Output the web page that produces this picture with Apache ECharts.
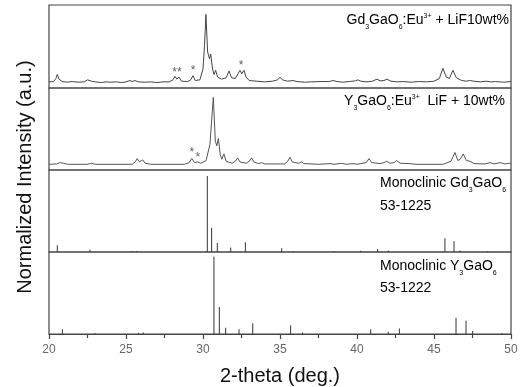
<!DOCTYPE html>
<html>
<head>
<meta charset="utf-8">
<script src="https://cdn.jsdelivr.net/npm/echarts@6/dist/echarts.min.js"></script>
<style>
  html, body { margin: 0; padding: 0; background: #fff; }
  #chart { width: 524px; height: 387px; }
</style>
</head>
<body>
<div id="chart"></div>
<script>
  // 2-theta ticks
  const xMin = 20
  const xMax = 50
  const xStep = 5

  // Gd3GaO6:Eu3+ + LiF10wt% (measured pattern, [2theta, intensity])
  const gdSample = [
    [20, 1], [20.3, 1.5], [20.45, 6], [20.54, 12], [20.65, 5], [20.85, 1.5], [21.2, 0.5], [21.5, 1.5],
    [21.9, 0.5], [22.3, 1], [22.5, 4], [22.6, 5], [22.75, 2], [23, 1], [23.4, 0], [23.7, 1], [24, 0.5],
    [24.4, 1], [24.7, 0], [25, 1], [25.26, 3], [25.4, 1.5], [25.58, 3], [25.8, 1], [26.2, 0.5], [26.6, 1],
    [27, 0], [27.4, 1], [27.8, 1], [28.05, 4], [28.18, 9], [28.3, 5], [28.44, 8], [28.6, 2], [29, 1.5],
    [29.2, 4], [29.35, 10], [29.5, 3], [29.8, 4], [30, 20], [30.1, 55], [30.19, 100], [30.3, 45],
    [30.42, 35], [30.5, 42], [30.62, 20], [30.72, 12], [30.82, 18], [30.95, 8], [31.2, 5], [31.5, 7],
    [31.69, 17], [31.85, 7], [32.1, 6], [32.3, 14], [32.4, 18], [32.52, 13], [32.66, 18], [32.8, 8],
    [33, 3], [33.5, 2], [34, 1], [34.5, 2], [34.85, 4], [35.0, 8], [35.15, 4], [35.5, 2], [35.84, 3],
    [36.1, 1.5], [36.6, 0.5], [37, 1], [37.6, 1.5], [38.2, 1.5], [38.44, 3], [38.7, 1.5], [39.1, 0.5],
    [39.5, 1.5], [39.9, 2.5], [40.06, 4], [40.25, 2], [40.6, 1], [41, 2], [41.3, 5], [41.5, 2.5],
    [41.75, 3], [41.95, 5], [42.2, 2], [42.6, 1], [43, 1.5], [43.5, 0.5], [44, 1.5], [44.5, 1], [45, 2],
    [45.35, 6], [45.58, 21], [45.8, 8], [46, 6], [46.23, 18], [46.45, 7], [46.8, 3], [47.1, 2],
    [47.3, 3], [47.6, 2], [48, 1], [48.4, 2], [48.7, 1], [49, 1.5], [49.5, 0.5], [50, 1.5],
  ]

  // Y3GaO6:Eu3+ LiF + 10wt% (measured pattern)
  const ySample = [
    [20, 0.5], [20.5, 1], [20.7, 3], [20.82, 5], [20.95, 2], [21.2, 0.5], [22.5, 0.5], [22.77, 2],
    [23, 0.5], [25.4, 0.5], [25.6, 4], [25.73, 9], [25.88, 4], [25.95, 5], [26.08, 7], [26.25, 2],
    [26.6, 0.5], [28.8, 0.5], [29.1, 3], [29.27, 9], [29.45, 3], [29.66, 4], [29.85, 2], [30.2, 6],
    [30.45, 30], [30.67, 100], [30.8, 35], [30.9, 28], [31.0, 39], [31.12, 15], [31.22, 8], [31.36, 16],
    [31.5, 5], [31.9, 2], [32.1, 5], [32.25, 10], [32.4, 4], [32.8, 2], [33, 5], [33.16, 10], [33.3, 4],
    [33.6, 1.5], [33.81, 3], [34, 1], [35.3, 1], [35.5, 5], [35.65, 11], [35.8, 4], [36.2, 2], [36.4, 4],
    [36.55, 1.5], [37.5, 0.5], [38.25, 1.5], [38.5, 0.5], [39.0, 2], [39.3, 0.5], [39.74, 1.5], [40, 0.5],
    [40.6, 3], [40.78, 9], [40.95, 3], [41.5, 1.5], [41.75, 3], [41.93, 5], [42.15, 2], [42.4, 3],
    [42.58, 6], [42.8, 2], [43.44, 1.5], [43.8, 0.5], [45.6, 0.5], [46.1, 5], [46.36, 18], [46.55, 6],
    [46.7, 8], [46.9, 16], [47.1, 6], [47.34, 5], [47.6, 1.5], [48.3, 1], [48.64, 3], [48.9, 1],
    [49.29, 3], [49.6, 1], [49.9, 2], [50, 1],
  ]

  // JCPDS 53-1225 monoclinic Gd3GaO6 (sticks)
  const gdRef = [
    [20.54, 9], [22.66, 3], [25.37, 1], [25.69, 1], [30.28, 100], [30.56, 32], [30.93, 12],
    [31.8, 6], [32.75, 13], [35.11, 5], [35.87, 1], [38.5, 1], [40.24, 1.5], [41.34, 4],
    [42.03, 2], [45.71, 18], [46.3, 14], [46.69, 2], [48.49, 1],
  ]

  // JCPDS 53-1222 monoclinic Y3GaO6 (sticks)
  const yRef = [
    [20.87, 6], [22.99, 1], [25.8, 1.5], [26.12, 2], [30.71, 100], [31.06, 35], [31.47, 8],
    [32.34, 6], [33.23, 14], [35.69, 11], [36.47, 2], [40.89, 6], [42.03, 3], [42.75, 7],
    [46.43, 21], [47.08, 17], [47.51, 4], [49.4, 1],
  ]

  // impurity marks (*)
  const gdStars = [[28.15, 15], [28.47, 15], [29.35, 17], [32.47, 25]]
  const yStars = [[29.27, 18], [29.66, 11]]

  const chart = echarts.init(document.getElementById('chart'))

  const font = 'Arial, "Liberation Sans", sans-serif'
  const panelTops = [5, 88, 170, 252]
  const panelH = [83, 82, 82, 82]

  const grids = panelTops.map((t, i) => ({
    left: 49,
    right: 13,
    top: t,
    height: panelH[i],
    show: true,
    borderColor: '#444',
    borderWidth: 1.2,
    backgroundColor: 'transparent',
  }))

  const xAxes = grids.map((g, i) => ({
    type: 'value',
    gridIndex: i,
    min: xMin,
    max: xMax,
    interval: xStep,
    show: i === 3,
    splitLine: { show: false },
    axisLine: { show: true, lineStyle: { color: '#444', width: 1.2 } },
    axisTick: { show: true, inside: false, length: 5, lineStyle: { color: '#444', width: 1.2 } },
    minorTick: { show: true, splitNumber: 2, length: 4, lineStyle: { color: '#444', width: 1.2 } },
    axisLabel: { color: '#666', fontSize: 12, fontFamily: font, margin: 10 },
    name: i === 3 ? '2-theta (deg.)' : '',
    nameLocation: 'middle',
    nameGap: 32,
    nameTextStyle: { color: '#111', fontSize: 20, fontFamily: font },
  }))

  const yRanges = [[-8, 114], [-8, 114], [0, 108], [0, 106]]
  const yAxes = yRanges.map((r, i) => ({
    type: 'value',
    gridIndex: i,
    min: r[0],
    max: r[1],
    show: false,
  }))

  const lineSeries = (data, idx, color) => ({
    type: 'line',
    xAxisIndex: idx,
    yAxisIndex: idx,
    data: data,
    showSymbol: false,
    symbol: 'none',
    smooth: false,
    lineStyle: { color: color, width: 1 },
    silent: true,
  })

  const stickSeries = (data, idx) => ({
    type: 'bar',
    xAxisIndex: idx,
    yAxisIndex: idx,
    data: data,
    barWidth: 1,
    itemStyle: { color: '#333' },
    silent: true,
  })

  const starSeries = (data, idx) => ({
    type: 'scatter',
    xAxisIndex: idx,
    yAxisIndex: idx,
    data: data,
    symbolSize: 1,
    itemStyle: { color: 'transparent' },
    label: {
      show: true,
      position: 'inside',
      formatter: '*',
      fontSize: 12,
      fontFamily: font,
      color: '#333',
    },
    silent: true,
  })

  const rich = {
    n: { fontSize: 14, fontFamily: font, color: '#222', lineHeight: 22, verticalAlign: 'middle' },
    s: { fontSize: 7, fontFamily: font, color: '#222', lineHeight: 10, verticalAlign: 'bottom' },
    p: { fontSize: 7, fontFamily: font, color: '#222', verticalAlign: 'middle', padding: [0, 0, 7, 0] },
  }

  const label = (x, y, text, align) => ({
    type: 'text',
    x: x,
    y: y,
    style: {
      text: text,
      rich: rich,
      align: align,
      verticalAlign: 'middle',
    },
  })

  const option = {
    backgroundColor: '#fff',
    animation: false,
    grid: grids,
    xAxis: xAxes,
    yAxis: yAxes,
    series: [
      lineSeries(gdSample, 0, '#444'),
      starSeries(gdStars, 0),
      lineSeries(ySample, 1, '#555'),
      starSeries(yStars, 1),
      stickSeries(gdRef, 2),
      stickSeries(yRef, 3),
    ],
    graphic: [
      label(509, 20, '{n|Gd}{s|3}{n|GaO}{s|6}{n|:Eu}{p|3+}{n| + LiF10wt%}', 'right'),
      label(505, 101, '{n|Y}{s|3}{n|GaO}{s|6}{n|:Eu}{p|3+}{n|  LiF + 10wt%}', 'right'),
      label(380, 183, '{n|Monoclinic Gd}{s|3}{n|GaO}{s|6}', 'left'),
      label(380, 206, '{n|53-1225}', 'left'),
      label(380, 266, '{n|Monoclinic Y}{s|3}{n|GaO}{s|6}', 'left'),
      label(380, 288, '{n|53-1222}', 'left'),
      {
        type: 'text',
        x: 25,
        y: 177,
        rotation: Math.PI / 2,
        style: {
          text: 'Normalized Intensity (a.u.)',
          fontSize: 20,
          fontFamily: font,
          fill: '#111',
          align: 'center',
          verticalAlign: 'middle',
        },
      },
    ],
  }

  chart.setOption(option)
</script>
</body>
</html>
